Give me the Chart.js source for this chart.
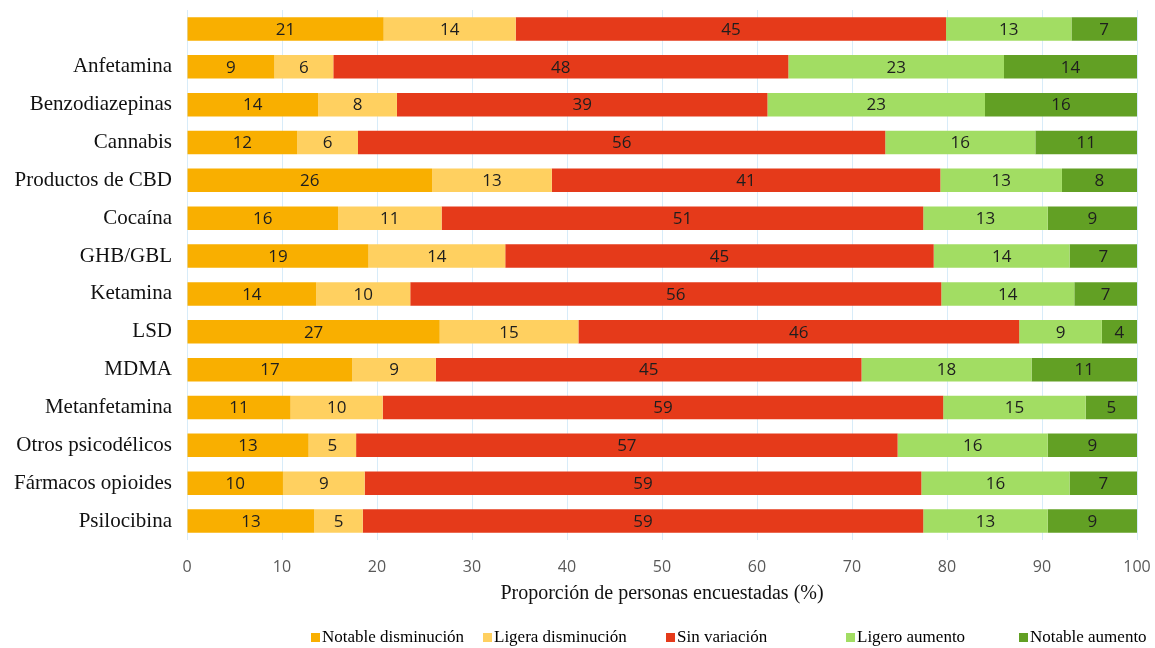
<!DOCTYPE html>
<html>
<head>
<meta charset="utf-8">
<script src="https://cdn.jsdelivr.net/npm/chart.js@4.4.1/dist/chart.umd.min.js"></script>
<style>
    html, body { margin: 0; padding: 0; background: #fff; }
    #wrap { position: relative; width: 1155px; height: 648px; overflow: hidden; }
    #legend { position: absolute; left: 311px; top: 628px; display: flex; font-family: "Liberation Serif", serif; font-size: 17px; line-height: 18px; color: #000; }
    #legend .item { display: flex; align-items: center; white-space: nowrap; }
    #legend .box { width: 9px; height: 9px; margin-right: 2px; }
</style>
</head>
<body>
<div id="wrap">
    <canvas id="chart" width="1155" height="648"></canvas>
    <div id="legend"></div>
</div>
<script>
const categories = ['', 'Anfetamina', 'Benzodiazepinas', 'Cannabis', 'Productos de CBD', 'Cocaína', 'GHB/GBL',
    'Ketamina', 'LSD', 'MDMA', 'Metanfetamina', 'Otros psicodélicos', 'Fármacos opioides', 'Psilocibina'];

const seriesNames = ['Notable disminución', 'Ligera disminución', 'Sin variación', 'Ligero aumento', 'Notable aumento'];

const notableDisminucion = [20.7, 9.2, 13.8, 11.6, 25.8, 15.9, 19.1, 13.6, 26.6, 17.4, 10.9, 12.8, 10.1, 13.4];
const ligeraDisminucion  = [13.9, 6.2, 8.3, 6.4, 12.6, 10.9, 14.4, 9.9, 14.6, 8.8, 9.7, 5.0, 8.6, 5.1];
const sinVariacion       = [45.3, 47.9, 39.0, 55.5, 40.9, 50.7, 45.1, 55.9, 46.4, 44.8, 59.0, 57.0, 58.6, 59.0];
const ligeroAumento      = [13.2, 22.7, 22.9, 15.8, 12.8, 13.1, 14.3, 14.0, 8.7, 17.9, 15.0, 15.8, 15.6, 13.1];
const notableAumento     = [6.9, 14.0, 16.0, 10.7, 7.9, 9.4, 7.1, 6.6, 3.7, 11.1, 5.4, 9.4, 7.1, 9.4];

const xTicks = [0, 10, 20, 30, 40, 50, 60, 70, 80, 90, 100];

const colors = ['#f9af00', '#ffd060', '#e53a1a', '#a2dd63', '#62a024'];
const legendSlots = [172, 183, 180, 173, 0];

const allSeries = [notableDisminucion, ligeraDisminucion, sinVariacion, ligeroAumento, notableAumento];

// numbers centred in each segment
const barLabels = {
    id: 'barLabels',
    afterDatasetsDraw(chart) {
        const ctx = chart.ctx;
        ctx.save();
        ctx.font = '17px "Open Sans"';
        ctx.fillStyle = '#1e1e1e';
        ctx.textAlign = 'center';
        ctx.textBaseline = 'middle';
        chart.data.datasets.forEach((ds, i) => {
            chart.getDatasetMeta(i).data.forEach((bar, j) => {
                const {x, y, base} = bar.getProps(['x', 'y', 'base'], true);
                ctx.fillText(Math.round(ds.data[j]), (x + base) / 2, y + 1);
            });
        });
        ctx.restore();
    }
};

const ctx = document.getElementById('chart');

const myChart = new Chart(ctx, {
    type: 'bar',
    data: {
        labels: categories,
        datasets: allSeries.map((values, i) => ({
            label: seriesNames[i],
            data: values,
            backgroundColor: colors[i],
            borderWidth: 0,
            barPercentage: 0.62,
            categoryPercentage: 1
        }))
    },
    options: {
        indexAxis: 'y',
        responsive: false,
        animation: false,
        devicePixelRatio: 1,
        layout: {
            padding: { top: 10, right: 18, bottom: 42, left: 0 }
        },
        plugins: {
            legend: { display: false },
            tooltip: { enabled: false }
        },
        scales: {
            x: {
                stacked: true,
                min: 0,
                max: 100,
                afterBuildTicks: (scale) => { scale.ticks = xTicks.map(v => ({ value: v })); },
                afterFit: (scale) => {
                    scale.height = 66;
                    scale.paddingLeft = 0;
                    scale.paddingRight = 0;
                },
                grid: { color: '#d8ecf9', lineWidth: 1, drawTicks: false },
                border: { display: false },
                ticks: {
                    padding: 18,
                    color: '#595959',
                    font: { family: 'Open Sans', size: 16 }
                },
                title: {
                    display: true,
                    text: 'Proporción de personas encuestadas (%)',
                    color: '#111',
                    font: { family: 'Liberation Serif', size: 20 },
                    padding: { top: 0, bottom: 0 }
                }
            },
            y: {
                stacked: true,
                afterFit: (scale) => {
                    scale.width = 187;
                    scale.paddingTop = 0;
                    scale.paddingBottom = 0;
                },
                grid: { display: false, drawTicks: false },
                border: { display: false },
                ticks: {
                    padding: 15,
                    color: '#111',
                    font: { family: 'Liberation Serif', size: 21 }
                }
            }
        }
    },
    plugins: [barLabels]
});

// legend under the axis title
const legendEl = document.getElementById('legend');
myChart.data.datasets.forEach((ds, i) => {
    const item = document.createElement('div');
    item.className = 'item';
    if (legendSlots[i]) item.style.width = legendSlots[i] + 'px';
    const box = document.createElement('span');
    box.className = 'box';
    box.style.background = ds.backgroundColor;
    const txt = document.createElement('span');
    txt.textContent = ds.label;
    item.appendChild(box);
    item.appendChild(txt);
    legendEl.appendChild(item);
});
</script>
</body>
</html>
